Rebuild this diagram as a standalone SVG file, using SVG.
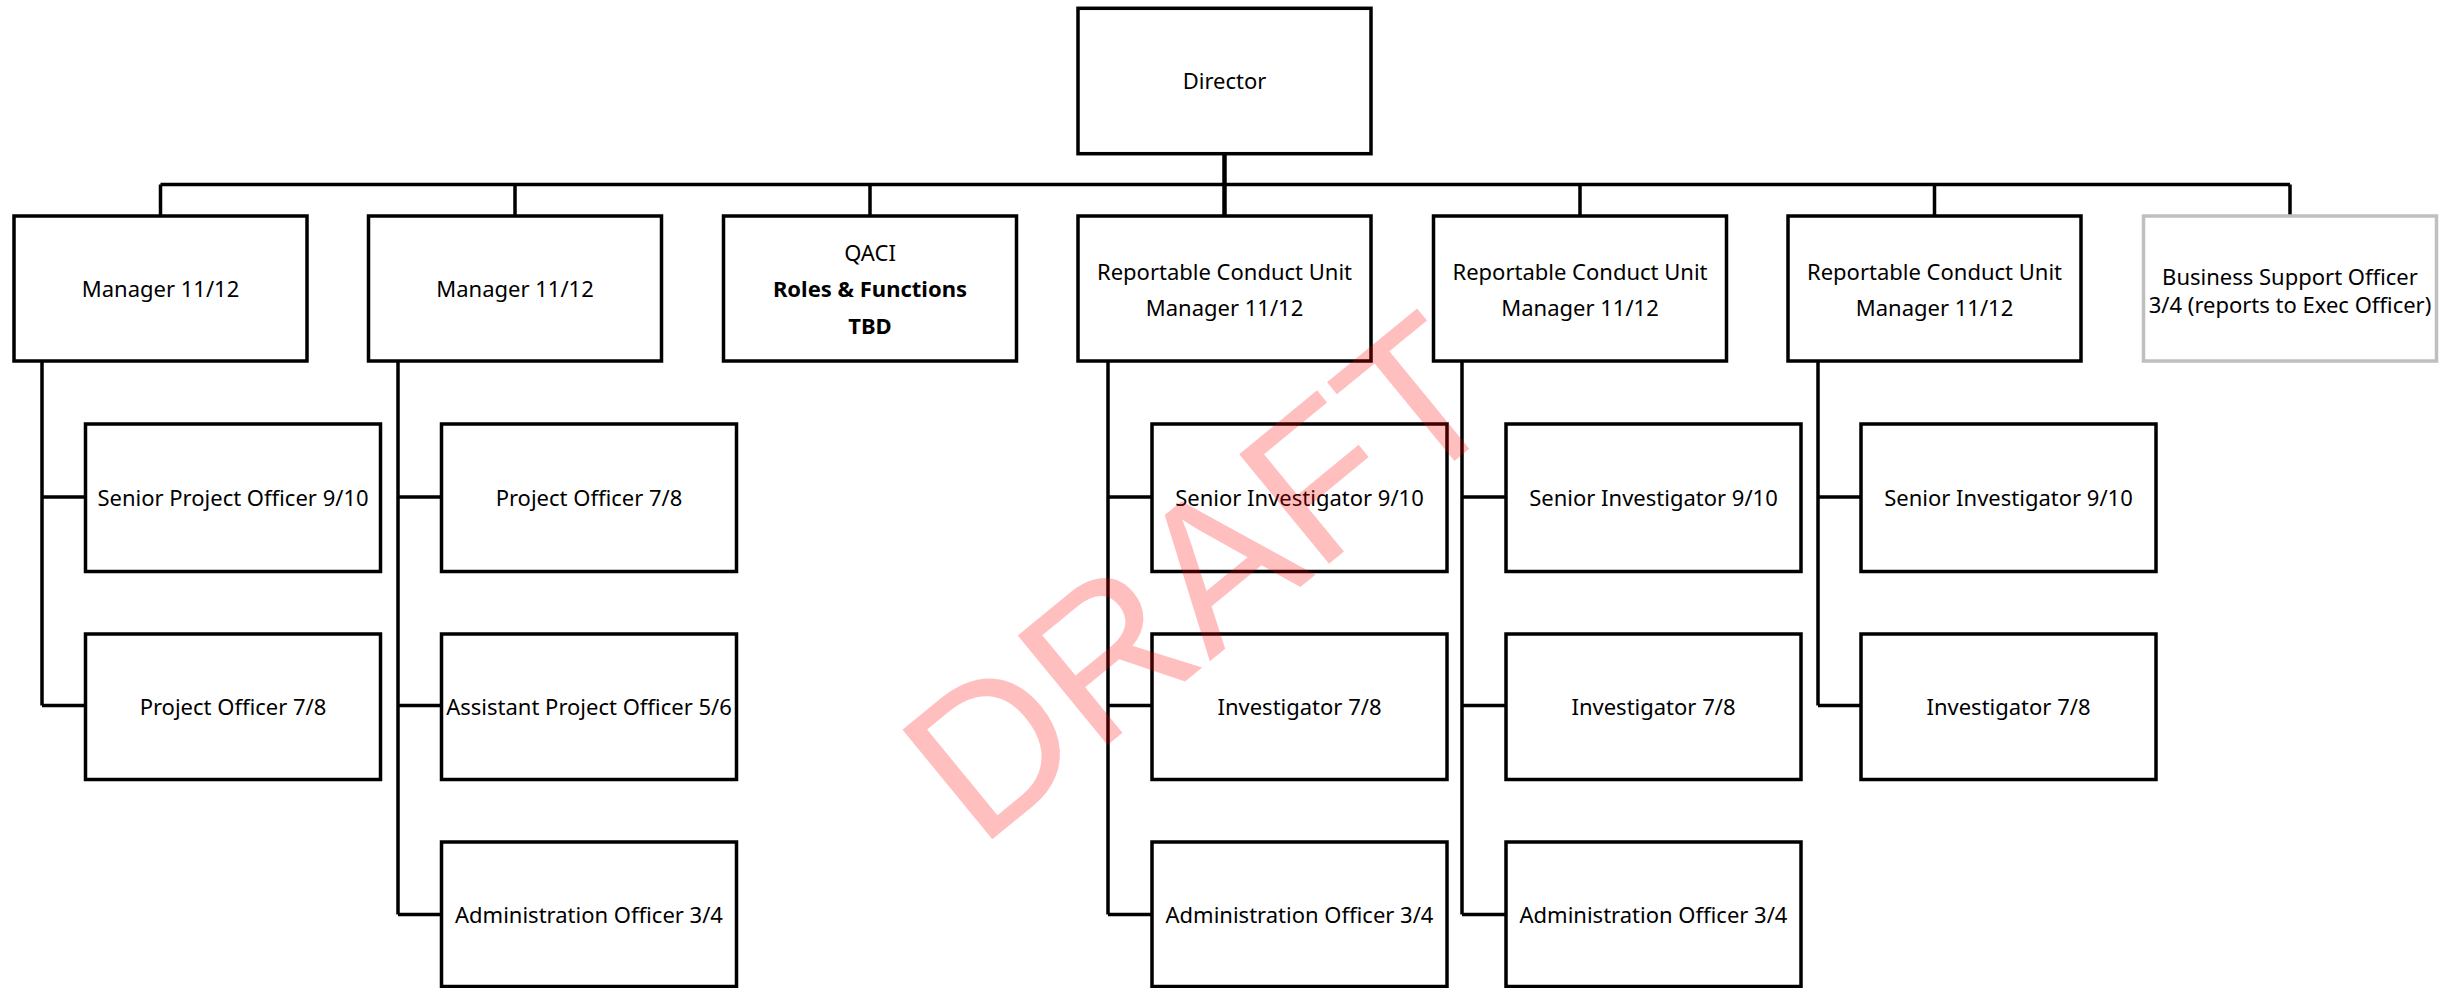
<svg xmlns="http://www.w3.org/2000/svg" width="2450" height="988" viewBox="0 0 2450 988">
<style>
.box{fill:#fff;stroke:#000;stroke-width:3.5}
.grey{fill:#fff;stroke:#bfbfbf;stroke-width:3.5}
.ln{fill:none;stroke:#000;stroke-width:3.5}
text{font-family:"Noto Sans","Liberation Sans",sans-serif;font-size:22px;fill:#000;text-anchor:middle}
.b{font-weight:bold}
.wm{font-family:"Liberation Sans",Arial,sans-serif;font-size:206px;fill:#ff0000;fill-opacity:0.25}
</style>
<rect width="2450" height="988" fill="#fff"/>
<g id="connectors">
<path class="ln" d="M160.5 184.5H2290M160.5 184.5V216M515 184.5V216M870 184.5V216M1580 184.5V216M1934.5 184.5V216M2290 184.5V216"/>
<path class="ln" style="stroke-width:4.5" d="M1224.5 153.7V216"/>
<path class="ln" d="M42 361V705.5M42 497H85.5M42 705.5H85.5"/>
<path class="ln" d="M398 361V914.5M398 497H441.5M398 705.5H441.5M398 914.5H441.5"/>
<path class="ln" d="M1108 361V914.5M1108 497H1152M1108 705.5H1152M1108 914.5H1152"/>
<path class="ln" d="M1462 361V914.5M1462 497H1506M1462 705.5H1506M1462 914.5H1506"/>
<path class="ln" d="M1818 361V705.5M1818 497H1861M1818 705.5H1861"/>
</g>
<g id="director"><rect class="box" x="1078" y="8.3" width="293" height="145.4"/><text x="1224.5" y="89">Director</text></g>
<g id="manager1"><rect class="box" x="14" y="216" width="293" height="145"/><text x="160.5" y="296.5">Manager 11/12</text></g>
<g id="manager2"><rect class="box" x="368.5" y="216" width="293" height="145"/><text x="515" y="296.5">Manager 11/12</text></g>
<g id="qaci"><rect class="box" x="723.5" y="216" width="293" height="145"/><text x="870" y="260.7">QACI</text><text class="b" x="870" y="297">Roles &amp; Functions</text><text class="b" x="870" y="334">TBD</text></g>
<g id="rcu1"><rect class="box" x="1078" y="216" width="293" height="145"/><text x="1224.5" y="279.5">Reportable Conduct Unit</text><text x="1224.5" y="315.5">Manager 11/12</text></g>
<g id="rcu2"><rect class="box" x="1433.5" y="216" width="293" height="145"/><text x="1580" y="279.5">Reportable Conduct Unit</text><text x="1580" y="315.5">Manager 11/12</text></g>
<g id="rcu3"><rect class="box" x="1788" y="216" width="293" height="145"/><text x="1934.5" y="279.5">Reportable Conduct Unit</text><text x="1934.5" y="315.5">Manager 11/12</text></g>
<g id="bso"><rect class="grey" x="2143.5" y="216" width="293" height="145"/><text x="2290" y="284.7">Business Support Officer</text><text x="2290" y="313">3/4 (reports to Exec Officer)</text></g>
<g id="m1-spo"><rect class="box" x="85.5" y="424" width="295" height="147.5"/><text x="233" y="505.5">Senior Project Officer 9/10</text></g>
<g id="m1-po"><rect class="box" x="85.5" y="634" width="295" height="145.5"/><text x="233" y="714.5">Project Officer 7/8</text></g>
<g id="m2-po"><rect class="box" x="441.5" y="424" width="295" height="147.5"/><text x="589" y="505.5">Project Officer 7/8</text></g>
<g id="m2-apo"><rect class="box" x="441.5" y="634" width="295" height="145.5"/><text x="589" y="714.5">Assistant Project Officer 5/6</text></g>
<g id="m2-ao"><rect class="box" x="441.5" y="842" width="295" height="144.5"/><text x="589" y="922.5">Administration Officer 3/4</text></g>
<g id="r1-si"><rect class="box" x="1152" y="424" width="295" height="147.5"/><text x="1299.5" y="505.5">Senior Investigator 9/10</text></g>
<g id="r1-i"><rect class="box" x="1152" y="634" width="295" height="145.5"/><text x="1299.5" y="714.5">Investigator 7/8</text></g>
<g id="r1-ao"><rect class="box" x="1152" y="842" width="295" height="144.5"/><text x="1299.5" y="922.5">Administration Officer 3/4</text></g>
<g id="r2-si"><rect class="box" x="1506" y="424" width="295" height="147.5"/><text x="1653.5" y="505.5">Senior Investigator 9/10</text></g>
<g id="r2-i"><rect class="box" x="1506" y="634" width="295" height="145.5"/><text x="1653.5" y="714.5">Investigator 7/8</text></g>
<g id="r2-ao"><rect class="box" x="1506" y="842" width="295" height="144.5"/><text x="1653.5" y="922.5">Administration Officer 3/4</text></g>
<g id="r3-si"><rect class="box" x="1861" y="424" width="295" height="147.5"/><text x="2008.5" y="505.5">Senior Investigator 9/10</text></g>
<g id="r3-i"><rect class="box" x="1861" y="634" width="295" height="145.5"/><text x="2008.5" y="714.5">Investigator 7/8</text></g>
<g id="watermark"><text class="wm" x="1245" y="632.5" transform="rotate(-39.3 1245 632.5)">DRAFT</text></g>
</svg>
